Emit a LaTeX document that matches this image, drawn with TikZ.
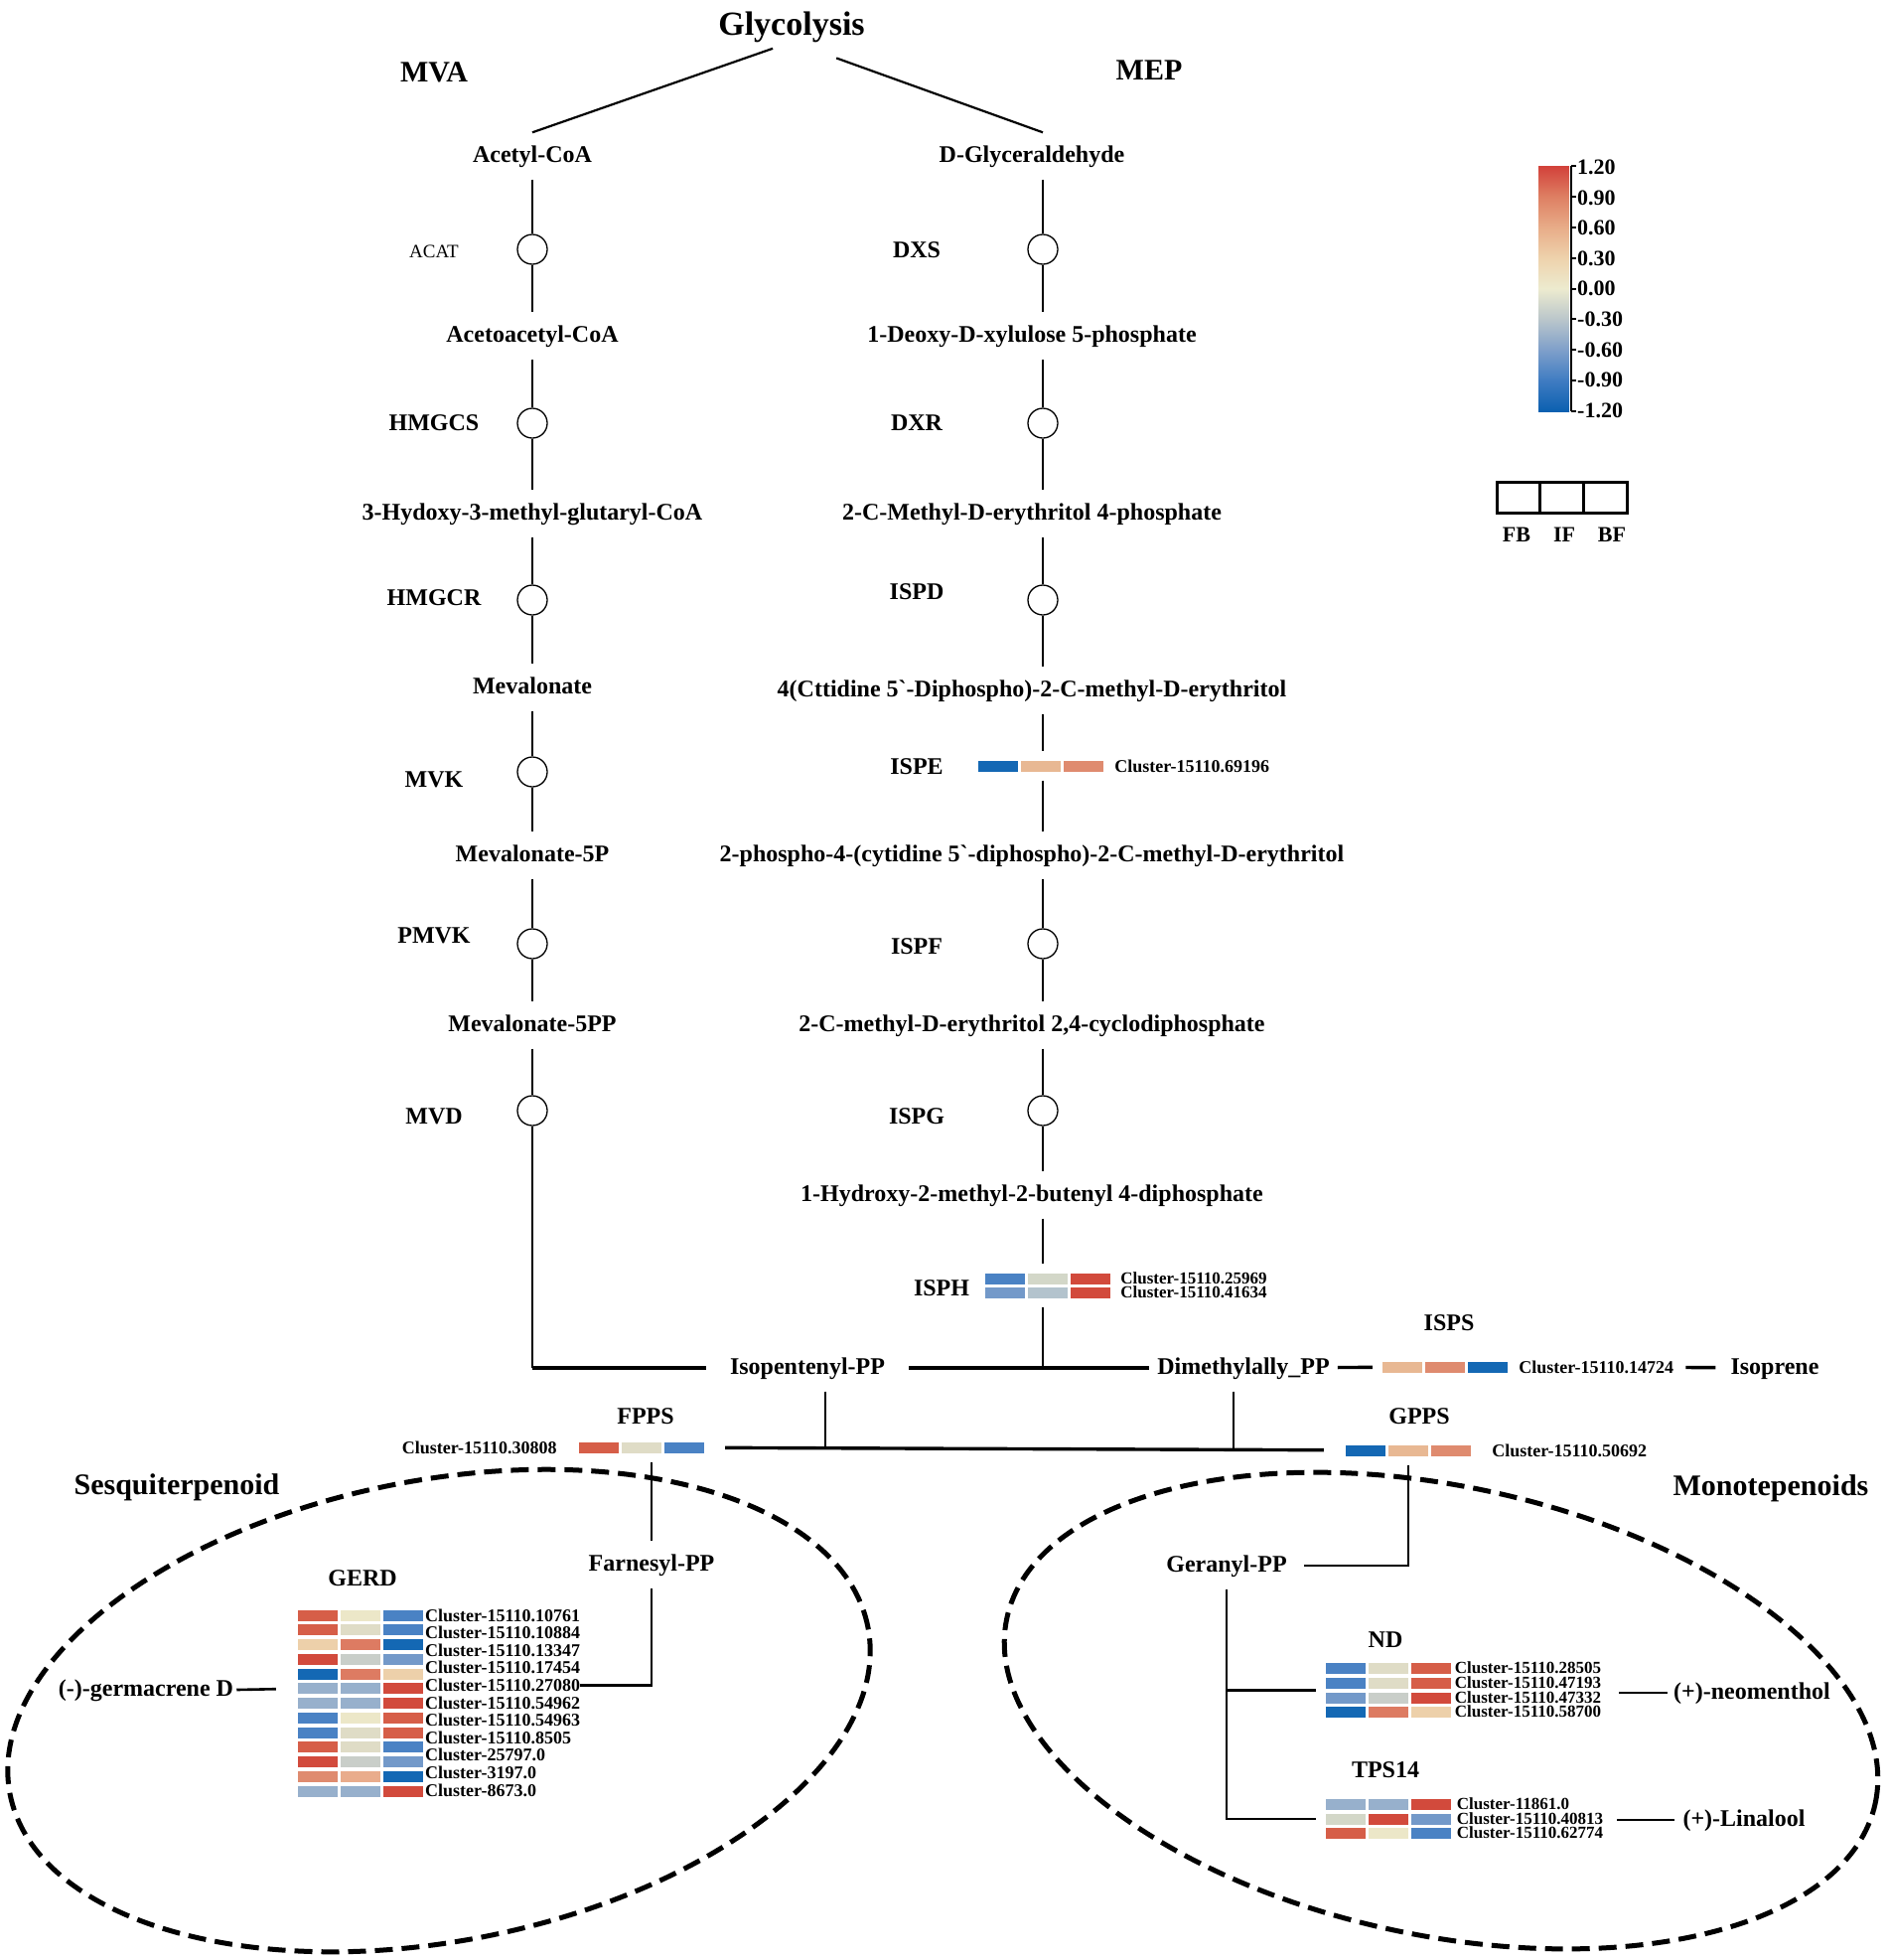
\documentclass[tikz,border=0pt]{standalone}
\usepackage{fontspec}
\setmainfont{Liberation Serif}
\usetikzlibrary{positioning,calc}

\definecolor{hR}{HTML}{D24A3C}
\definecolor{hr}{HTML}{D65E48}
\definecolor{hS}{HTML}{DD7B62}
\definecolor{hs}{HTML}{DF8B6F}
\definecolor{hk}{HTML}{E9AC8C}
\definecolor{hp}{HTML}{E8B893}
\definecolor{hP}{HTML}{EDD0AA}
\definecolor{hc}{HTML}{ECE7C8}
\definecolor{hC}{HTML}{DFDCC6}
\definecolor{hg}{HTML}{C9CEC9}
\definecolor{hG}{HTML}{D3D7C8}
\definecolor{hq}{HTML}{B3C3CD}
\definecolor{hx}{HTML}{97B0CC}
\definecolor{hl}{HTML}{7399C9}
\definecolor{hb}{HTML}{4A82C4}
\definecolor{hB}{HTML}{1468B4}

\definecolor{cb1}{HTML}{0B60B0}
\definecolor{cb2}{HTML}{3F7CC2}
\definecolor{cb3}{HTML}{7F9FCA}
\definecolor{cb4}{HTML}{BAC6CB}
\definecolor{cb5}{HTML}{EDEBCF}
\definecolor{cb6}{HTML}{EED2AC}
\definecolor{cb7}{HTML}{E8AC88}
\definecolor{cb8}{HTML}{DE7F63}
\definecolor{cb9}{HTML}{D2413A}

\pgfdeclareverticalshading{cbar}{100bp}{color(0bp)=(cb1); color(25bp)=(cb1);
	color(31.25bp)=(cb2); color(37.5bp)=(cb3); color(43.75bp)=(cb4); color(50bp)=(cb5);
	color(56.25bp)=(cb6); color(62.5bp)=(cb7); color(68.75bp)=(cb8); color(75bp)=(cb9); color(100bp)=(cb9)}

\newcommand{\hmcells}[3]{%
	\textcolor{#1}{\rule{40pt}{11pt}}\hspace{3pt}%
	\textcolor{#2}{\rule{40pt}{11pt}}\hspace{3pt}%
	\textcolor{#3}{\rule{40pt}{11pt}}}

\begin{document}
\begin{tikzpicture}[
		x=1pt, y=-1pt,
		conn/.style={line width=2.2pt},
		branch/.style={line width=2.6pt},
		bold line/.style={line width=3.4pt},
		met/.style={font=\bfseries\fontsize{24}{28}\selectfont, text height=16pt, text depth=4pt, inner xsep=4pt, inner ysep=0pt, minimum height=47pt},
		enz/.style={font=\bfseries\fontsize{24}{28}\selectfont, text height=16pt, text depth=4pt, inner sep=0pt},
		rxn/.style={circle, draw, fill=white, line width=1.3pt, minimum size=30pt, inner sep=0pt},
		heat/.style={inner xsep=0pt, inner ysep=9pt},
		clu/.style={font=\bfseries\fontsize{18}{20}\selectfont, text height=12pt, text depth=0pt, inner sep=0pt},
		clu stack/.style={clu, font=\bfseries\fontsize{17}{19}\selectfont, text height=11pt},
		ttl/.style={font=\bfseries\fontsize{30}{34}\selectfont, text height=20pt, text depth=6pt, inner sep=0pt},
		bar label/.style={font=\bfseries\fontsize{22}{24}\selectfont, text height=15pt, text depth=0pt, inner sep=0pt, anchor=west},
		pool/.style={line width=5pt, dash pattern=on 18pt off 9pt}]

	\useasboundingbox (0,0) rectangle (1902,1973);

	% pools
	\draw[pool, rotate around={11:(442,1722)}] (442,1722) ellipse [x radius=440pt, y radius=232pt];
	\draw[pool, rotate around={-12:(1451,1722)}] (1451,1722) ellipse [x radius=447pt, y radius=226pt];

	\node[ttl, font=\bfseries\fontsize{34}{38}\selectfont, text height=23pt, text depth=7pt] (gly) at (797,27) {Glycolysis};
	\node[ttl] (mva) at (437,75) {MVA};
	\node[ttl] (mep) at (1157,73) {MEP};

	% MVA
	\node[met] (acetyl) at (536,157) {Acetyl-CoA};
	\node[rxn] (acat) at (536,251) {};
	\node[met] (acac) at (536,338) {Acetoacetyl-CoA};
	\node[rxn] (hmgcs) at (536,426) {};
	\node[met] (hmgcoa) at (536,517) {3-Hydoxy-3-methyl-glutaryl-CoA};
	\node[rxn] (hmgcr) at (536,604) {};
	\node[met] (mev) at (536,692) {Mevalonate};
	\node[rxn] (mvk) at (536,777) {};
	\node[met] (mevp) at (536,861) {Mevalonate-5P};
	\node[rxn] (pmvk) at (536,950) {};
	\node[met] (mevpp) at (536,1032) {Mevalonate-5PP};
	\node[rxn] (mvd) at (536,1118) {};

	\node[enz, font=\fontsize{19}{21}\selectfont] (lacat) at (437,253) {ACAT};
	\node[enz] (lhmgcs) at (437,427) {HMGCS};
	\node[enz] (lhmgcr) at (437,603) {HMGCR};
	\node[enz] (lmvk) at (437,786) {MVK};
	\node[enz] (lpmvk) at (437,943) {PMVK};
	\node[enz] (lmvd) at (437,1125) {MVD};

	% MEP
	\node[met] (dgly) at (1039,157) {D-Glyceraldehyde};
	\node[rxn] (dxs) at (1050,251) {};
	\node[met] (dxp) at (1039,338) {1-Deoxy-D-xylulose 5-phosphate};
	\node[rxn] (dxr) at (1050,426) {};
	\node[met] (mep4p) at (1039,517) {2-C-Methyl-D-erythritol 4-phosphate};
	\node[rxn] (ispd) at (1050,604) {};
	\node[met] (cdpme) at (1039,695) {4(Cttidine 5\textasciigrave-Diphospho)-2-C-methyl-D-erythritol};
	\node[heat] (hispe) at (1048,771) {\hmcells{hB}{hp}{hs}};
	\node[met] (cdpmep) at (1039,861) {2-phospho-4-(cytidine 5\textasciigrave-diphospho)-2-C-methyl-D-erythritol};
	\node[rxn] (ispf) at (1050,950) {};
	\node[met] (mecpp) at (1039,1032) {2-C-methyl-D-erythritol 2,4-cyclodiphosphate};
	\node[rxn] (ispg) at (1050,1118) {};
	\node[met] (hmbpp) at (1039,1203) {1-Hydroxy-2-methyl-2-butenyl 4-diphosphate};
	\node[heat] (hisph1) at (1055,1287) {\hmcells{hb}{hG}{hR}};
	\node[heat] (hisph2) at (1055,1301) {\hmcells{hl}{hq}{hR}};

	\node[enz] (ldxs) at (923,253) {DXS};
	\node[enz] (ldxr) at (923,427) {DXR};
	\node[enz] (lispd) at (923,597) {ISPD};
	\node[enz] (lispe) at (923,773) {ISPE};
	\node[enz] (lispf) at (923,954) {ISPF};
	\node[enz] (lispg) at (923,1125) {ISPG};
	\node[enz] (lisph) at (948,1298) {ISPH};

	\node[clu, right=11pt of hispe] (cispe) {Cluster-15110.69196};
	\node[clu stack, right=10pt of hisph1] (cisph1) {Cluster-15110.25969};
	\node[clu stack, right=10pt of hisph2] (cisph2) {Cluster-15110.41634};

	% IPP / DMAPP
	\node[met, inner xsep=24pt] (ipp) at (813,1377) {Isopentenyl-PP};
	\node[met, inner xsep=8pt] (dmapp) at (1252,1377) {Dimethylally\_PP};
	\node[heat] (hisps) at (1455,1376) {\hmcells{hp}{hs}{hB}};
	\node[enz] (lisps) at (1459,1333) {ISPS};
	\node[clu, right=11pt of hisps] (cisps) {Cluster-15110.14724};
	\node[met, inner xsep=0pt] (isop) at (1787,1377) {Isoprene};

	\node[heat] (hfpps) at (646,1457) {\hmcells{hr}{hC}{hb}};
	\node[enz] (lfpps) at (650,1427) {FPPS};
	\node[clu, left=22pt of hfpps] (cfpps) {Cluster-15110.30808};
	\node[heat] (hgpps) at (1418,1460) {\hmcells{hB}{hp}{hs}};
	\node[enz] (lgpps) at (1429,1427) {GPPS};
	\node[clu, right=21pt of hgpps] (cgpps) {Cluster-15110.50692};

	% Sesquiterpenoid
	\node[ttl] (sesq) at (178,1497) {Sesquiterpenoid};
	\node[met] (farn) at (656,1575) {Farnesyl-PP};
	\node[enz] (lgerd) at (365,1590) {GERD};
	\node[heat] (hg1) at (363,1626) {\hmcells{hr}{hc}{hb}};
	\node[heat] (hg2) at (363,1640.75) {\hmcells{hr}{hC}{hb}};
	\node[heat] (hg3) at (363,1655.5) {\hmcells{hP}{hS}{hB}};
	\node[heat] (hg4) at (363,1670.25) {\hmcells{hR}{hg}{hl}};
	\node[heat] (hg5) at (363,1685) {\hmcells{hB}{hS}{hP}};
	\node[heat] (hg6) at (363,1699.75) {\hmcells{hx}{hx}{hR}};
	\node[heat] (hg7) at (363,1714.5) {\hmcells{hx}{hx}{hR}};
	\node[heat] (hg8) at (363,1729.25) {\hmcells{hb}{hc}{hr}};
	\node[heat] (hg9) at (363,1744) {\hmcells{hb}{hC}{hr}};
	\node[heat] (hg10) at (363,1758.75) {\hmcells{hr}{hC}{hb}};
	\node[heat] (hg11) at (363,1773.5) {\hmcells{hR}{hg}{hl}};
	\node[heat] (hg12) at (363,1788.25) {\hmcells{hs}{hk}{hB}};
	\node[heat] (hg13) at (363,1803) {\hmcells{hx}{hx}{hR}};
	\node[clu, anchor=west] (gl1) at (428,1626) {Cluster-15110.10761};
	\node[clu, anchor=west] (gl2) at (428,1643.6) {Cluster-15110.10884};
	\node[clu, anchor=west] (gl3) at (428,1661.2) {Cluster-15110.13347};
	\node[clu, anchor=west] (gl4) at (428,1678.8) {Cluster-15110.17454};
	\node[clu, anchor=west] (gl5) at (428,1696.4) {Cluster-15110.27080};
	\node[clu, anchor=west] (gl6) at (428,1714) {Cluster-15110.54962};
	\node[clu, anchor=west] (gl7) at (428,1731.6) {Cluster-15110.54963};
	\node[clu, anchor=west] (gl8) at (428,1749.2) {Cluster-15110.8505};
	\node[clu, anchor=west] (gl9) at (428,1766.8) {Cluster-25797.0};
	\node[clu, anchor=west] (gl10) at (428,1784.4) {Cluster-3197.0};
	\node[clu, anchor=west] (gl11) at (428,1802) {Cluster-8673.0};
	\node[met, inner xsep=3pt] (germ) at (147,1701) {(-)-germacrene D};

	% Monotepenoids
	\node[ttl] (mono) at (1783,1498) {Monotepenoids};
	\node[met, inner xsep=17pt] (ger) at (1235,1576) {Geranyl-PP};
	\node[enz] (lnd) at (1395,1652) {ND};
	\node[heat] (hnd1) at (1397.5,1679) {\hmcells{hb}{hC}{hr}};
	\node[heat] (hnd2) at (1397.5,1694) {\hmcells{hb}{hC}{hr}};
	\node[heat] (hnd3) at (1397.5,1709) {\hmcells{hl}{hg}{hR}};
	\node[heat] (hnd4) at (1397.5,1723) {\hmcells{hB}{hS}{hP}};
	\node[clu stack, right=4pt of hnd1] (cnd1) {Cluster-15110.28505};
	\node[clu stack, right=4pt of hnd2] (cnd2) {Cluster-15110.47193};
	\node[clu stack, right=4pt of hnd3] (cnd3) {Cluster-15110.47332};
	\node[clu stack, right=4pt of hnd4] (cnd4) {Cluster-15110.58700};
	\node[met, inner xsep=6pt] (neo) at (1764,1704) {(+)-neomenthol};
	\node[enz] (ltps) at (1395,1783) {TPS14};
	\node[heat] (htps1) at (1397.5,1816) {\hmcells{hx}{hx}{hR}};
	\node[heat] (htps2) at (1397.5,1831) {\hmcells{hG}{hR}{hl}};
	\node[heat] (htps3) at (1397.5,1845) {\hmcells{hr}{hc}{hb}};
	\node[clu stack, right=6pt of htps1] (ctps1) {Cluster-11861.0};
	\node[clu stack, right=6pt of htps2] (ctps2) {Cluster-15110.40813};
	\node[clu stack, right=6pt of htps3] (ctps3) {Cluster-15110.62774};
	\node[met, inner xsep=8pt] (lin) at (1756,1832) {(+)-Linalool};

	\draw[conn, shorten <=20pt] (gly.south) -- (acetyl.north);
	\draw[conn, shorten <=48pt] (gly.south) -- (dgly.north -| dxs);

	\path[conn]
		(acetyl) edge (acat)
		(acat) edge (acac)
		(acac) edge (hmgcs)
		(hmgcs) edge (hmgcoa)
		(hmgcoa) edge (hmgcr)
		(hmgcr) edge (mev)
		(mev) edge (mvk)
		(mvk) edge (mevp)
		(mevp) edge (pmvk)
		(pmvk) edge (mevpp)
		(mevpp) edge (mvd)
		(mvd) edge (mvd |- ipp)

		(dgly.south -| dxs) edge (dxs)
		(dxs) edge (dxp.north -| dxs)
		(dxp.south -| dxs) edge (dxr)
		(dxr) edge (mep4p.north -| dxs)
		(mep4p.south -| dxs) edge (ispd)
		(ispd) edge (cdpme.north -| dxs)
		(cdpme.south -| dxs) edge (hispe.north -| dxs)
		(hispe.south -| dxs) edge (cdpmep.north -| dxs)
		(cdpmep.south -| dxs) edge (ispf)
		(ispf) edge (mecpp.north -| dxs)
		(mecpp.south -| dxs) edge (ispg)
		(ispg) edge (hmbpp.north -| dxs)
		(hmbpp.south -| dxs) edge (hisph1.north -| dxs)
		(hisph2.south -| dxs) edge (dxs |- ipp)
	;

	\draw[bold line] (mvd |- ipp) -- (ipp.west);
	\draw[bold line] (ipp) -- (dmapp);
	\draw[bold line, shorten >=10pt] (dmapp) -- (hisps);
	\draw[bold line, shorten <=12pt, shorten >=15pt] (cisps) -- (isop);

	\draw[bold line, shorten <=21pt, shorten >=22pt] (hfpps) -- (hgpps);
	\draw[conn] (ipp.south) ++(18,0) coordinate (jf) -- (jf |- hfpps);
	\draw[conn] (dmapp.south) ++(-10,0) coordinate (jg) -- (jg |- hgpps);

	\draw[conn] (farn.north) -- (farn.north |- hfpps.south);
	\draw[branch] (farn.south) |- (gl5.east);
	\draw[branch, shorten >=22pt] (germ.east) -- (hg6.west);

	\draw[branch] (hgpps.south) |- (ger.east);
	\draw[branch, shorten >=9pt] (ger.south) |- ($(hnd2.west)!.5!(hnd3.west)$);
	\draw[branch, shorten >=9pt] (ger.south) |- (htps2.west);
	\draw[branch, shorten >=18pt] (neo.west) -- (neo.west -| cnd3.east);
	\draw[branch, shorten >=14pt] (lin.west) -- (lin.west -| ctps2.east);

	% colour key
	\shade[shading=cbar] (1549,167) rectangle (1580,414);
	\draw[line width=2pt] (1582,167) -- (1582,414);
	\foreach \v [count=\i from 0] in {1.20,0.90,0.60,0.30,0.00,-0.30,-0.60,-0.90,-1.20} {
		\draw[line width=2pt] (1582,167+30.875*\i) -- ++(5,0);
		\node[bar label] (tick\i) at (1588,168+30.6*\i) {\v};
	}
	\draw[line width=3pt] (1507,485) rectangle (1638,516);
	\draw[line width=3pt] (1550,485) -- (1550,516) (1594,485) -- (1594,516);
	\node[bar label, anchor=center] (lfb) at (1527,538) {FB};
	\node[bar label, anchor=center] (lif) at (1575,538) {IF};
	\node[bar label, anchor=center] (lbf) at (1623,538) {BF};
\end{tikzpicture}
\end{document}
